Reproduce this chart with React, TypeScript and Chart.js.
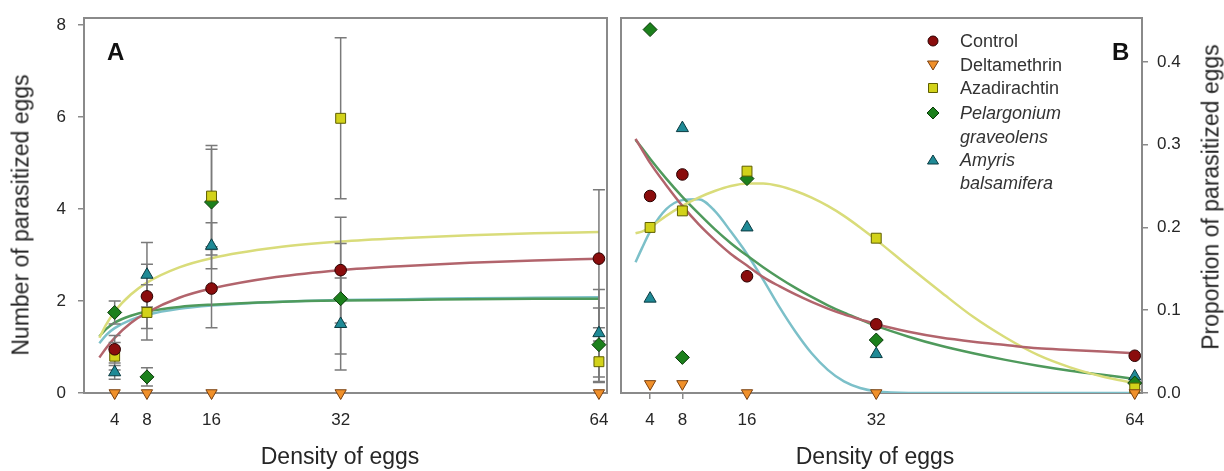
import React, { useEffect, useRef } from "react";
import { Chart, registerables } from "chart.js";
Chart.register(...registerables);

const FONT = "'Liberation Sans', Arial, sans-serif";

const densities = [4, 8, 16, 32, 64];
const xTickValues = [4, 8, 16, 32, 64];
const yTickValuesA = [0, 2, 4, 6, 8];
const yTickValuesB = [0, 0.1, 0.2, 0.3, 0.4];

const seriesNames = ["Control", "Deltamethrin", "Azadirachtin", "Pelargonium graveolens", "Amyris balsamifera"];

// Panel A: number of parasitized eggs (mean) and error
const controlMeanA = [0.95, 2.1, 2.27, 2.67, 2.92];
const deltamethrinMeanA = [0, 0, 0, 0, 0];
const azadirachtinMeanA = [0.8, 1.75, 4.28, 5.97, 0.68];
const pelargoniumMeanA = [1.75, 0.35, 4.15, 2.05, 1.05];
const amyrisMeanA = [0.45, 2.57, 3.2, 1.5, 1.3];

const controlErrA = [0.3, 0.7, 0.85, 1.15, 1.5];
const deltamethrinErrA = [0, 0, 0, 0, 0];
const azadirachtinErrA = [0.3, 0.6, 1.1, 1.75, 0.45];
const pelargoniumErrA = [0.25, 0.2, 1.15, 1.2, 0.8];
const amyrisErrA = [0.15, 0.7, 0.5, 1.0, 0.95];

// Panel B: proportion of parasitized eggs
const controlPropB = [0.238, 0.264, 0.141, 0.083, 0.045];
const deltamethrinPropB = [0.011, 0.011, 0, 0, 0];
const azadirachtinPropB = [0.2, 0.22, 0.268, 0.187, 0.006];
const pelargoniumPropB = [0.439, 0.043, 0.259, 0.064, 0.012];
const amyrisPropB = [0.114, 0.32, 0.2, 0.047, 0.02];

// Fitted curves
const fitXA = [2.1, 3, 4, 6, 8, 12, 16, 24, 32, 40, 48, 56, 64];
const controlFitA = [0.77, 0.99, 1.2, 1.52, 1.75, 2.07, 2.27, 2.52, 2.67, 2.76, 2.83, 2.88, 2.92];
const azadirachtinFitA = [1.2, 1.5, 1.77, 2.14, 2.4, 2.73, 2.93, 3.16, 3.29, 3.37, 3.43, 3.47, 3.5];
const pelargoniumFitA = [1.23, 1.4, 1.53, 1.68, 1.77, 1.87, 1.92, 1.98, 2.01, 2.02, 2.04, 2.05, 2.05];
const amyrisFitA = [1.08, 1.27, 1.41, 1.59, 1.7, 1.83, 1.9, 1.98, 2.02, 2.04, 2.06, 2.07, 2.08];

const fitXB = [2.2, 3, 4, 6, 8, 10, 12, 14, 16, 18, 20, 22, 24, 26, 28, 30, 32, 36, 40, 44, 48, 52, 56, 60, 64];
const controlFitB = [0.307, 0.294, 0.278, 0.251, 0.226, 0.204, 0.185, 0.168, 0.154, 0.14, 0.129, 0.119, 0.11, 0.102, 0.095, 0.089, 0.083, 0.074, 0.067, 0.062, 0.058, 0.054, 0.052, 0.05, 0.048];
const azadirachtinFitB = [0.193, 0.195, 0.2, 0.214, 0.226, 0.236, 0.244, 0.25, 0.253, 0.253, 0.25, 0.244, 0.236, 0.226, 0.214, 0.2, 0.185, 0.153, 0.122, 0.092, 0.067, 0.046, 0.031, 0.02, 0.012];
const pelargoniumFitB = [0.306, 0.296, 0.283, 0.259, 0.237, 0.217, 0.198, 0.181, 0.166, 0.152, 0.139, 0.127, 0.116, 0.106, 0.097, 0.089, 0.081, 0.068, 0.057, 0.048, 0.04, 0.033, 0.027, 0.022, 0.017];
const amyrisFitB = [0.158, 0.175, 0.195, 0.222, 0.233, 0.234, 0.22, 0.195, 0.168, 0.137, 0.104, 0.074, 0.048, 0.028, 0.014, 0.006, 0.002, 0, 0, 0, 0, 0, 0, 0, 0];

const markerStyles = [
  { pointStyle: "circle", bg: "#8a0c0c", border: "#2a0000", radius: 5.8, rotation: 0 },
  { pointStyle: "triangle", bg: "#f0902a", border: "#7a4010", radius: 6.5, rotation: 180 },
  { pointStyle: "rect", bg: "#d2d21a", border: "#5e5e00", radius: 7, rotation: 0 },
  { pointStyle: "rectRot", bg: "#1c801c", border: "#0a3a0a", radius: 7, rotation: 0 },
  { pointStyle: "triangle", bg: "#1f8a96", border: "#0a3a40", radius: 7, rotation: 0 },
];
const fitColors = ["#b2646c", "#d9dc7a", "#4f9a5c", "#7cc0c9"];

const FRAME = "#8a8a8a";
const TEXT = "#262626";

function scatterSet(label: string, ys: number[], i: number) {
  const st = markerStyles[i];
  return {
    label,
    data: densities.map((x, k) => ({ x, y: ys[k] })),
    pointStyle: st.pointStyle,
    pointRadius: st.radius,
    pointRotation: st.rotation,
    backgroundColor: st.bg,
    borderColor: st.border,
    pointBorderWidth: 1,
    borderWidth: 1,
    showLine: false,
    clip: false,
    order: 0,
  };
}

function curveSet(label: string, xs: number[], ys: number[], color: string) {
  return {
    label,
    data: xs.map((x, k) => ({ x, y: ys[k] })),
    borderColor: color,
    backgroundColor: color,
    borderWidth: 2.5,
    pointRadius: 0,
    showLine: true,
    fill: false,
    cubicInterpolationMode: "monotone",
    order: 1,
  };
}

const framePlugin = {
  id: "frame",
  beforeDatasetsDraw(chart: any) {
    const { ctx, chartArea } = chart;
    ctx.save();
    ctx.strokeStyle = FRAME;
    ctx.lineWidth = 2;
    ctx.strokeRect(chartArea.left, chartArea.top, chartArea.right - chartArea.left, chartArea.bottom - chartArea.top);
    ctx.restore();
  },
};

function makeErrorPlugin(means: number[][], errs: number[][]) {
  return {
    id: "errbars",
    beforeDatasetDraw(chart: any, args: any) {
      if (args.index !== means.length - 1) return;
      const { ctx } = chart;
      const xs = chart.scales.x;
      const ys = chart.scales.y;
      ctx.save();
      ctx.strokeStyle = "#7a7a7a";
      ctx.lineWidth = 1.5;
      means.forEach((m, s) => {
        m.forEach((v, k) => {
          const e = errs[s][k];
          if (!e) return;
          const px = xs.getPixelForValue(densities[k]);
          const top = ys.getPixelForValue(v + e);
          const bot = ys.getPixelForValue(v - e);
          ctx.beginPath();
          ctx.moveTo(px, top);
          ctx.lineTo(px, bot);
          ctx.moveTo(px - 6, top);
          ctx.lineTo(px + 6, top);
          ctx.moveTo(px - 6, bot);
          ctx.lineTo(px + 6, bot);
          ctx.stroke();
        });
      });
      ctx.restore();
    },
  };
}

function drawMarker(ctx: CanvasRenderingContext2D, i: number, x: number, y: number) {
  const st = markerStyles[i];
  ctx.fillStyle = st.bg;
  ctx.strokeStyle = st.border;
  ctx.lineWidth = 1;
  ctx.beginPath();
  if (i === 0) {
    ctx.arc(x, y, 5, 0, Math.PI * 2);
  } else if (i === 1) {
    ctx.moveTo(x - 5.5, y - 4);
    ctx.lineTo(x + 5.5, y - 4);
    ctx.lineTo(x, y + 5);
    ctx.closePath();
  } else if (i === 2) {
    ctx.rect(x - 4.5, y - 4.5, 9, 9);
  } else if (i === 3) {
    ctx.moveTo(x, y - 6);
    ctx.lineTo(x + 6, y);
    ctx.lineTo(x, y + 6);
    ctx.lineTo(x - 6, y);
    ctx.closePath();
  } else {
    ctx.moveTo(x - 5.5, y + 4);
    ctx.lineTo(x + 5.5, y + 4);
    ctx.lineTo(x, y - 5);
    ctx.closePath();
  }
  ctx.fill();
  ctx.stroke();
}

const legendPlugin = {
  id: "innerLegend",
  afterDatasetsDraw(chart: any) {
    const { ctx } = chart;
    const mx = 321;
    const tx = 348;
    const rows: { text: string; italic: boolean; y: number; marker: number }[] = [
      { text: "Control", italic: false, y: 41, marker: 0 },
      { text: "Deltamethrin", italic: false, y: 65, marker: 1 },
      { text: "Azadirachtin", italic: false, y: 88, marker: 2 },
      { text: "Pelargonium", italic: true, y: 113, marker: 3 },
      { text: "graveolens", italic: true, y: 137, marker: -1 },
      { text: "Amyris", italic: true, y: 160, marker: 4 },
      { text: "balsamifera", italic: true, y: 183, marker: -1 },
    ];
    ctx.save();
    ctx.textBaseline = "middle";
    ctx.textAlign = "left";
    rows.forEach((r) => {
      if (r.marker >= 0) drawMarker(ctx, r.marker, mx, r.y);
      ctx.fillStyle = "#333";
      ctx.font = `${r.italic ? "italic " : ""}18px ${FONT}`;
      ctx.fillText(r.text, tx, r.y + 1);
    });
    ctx.restore();
  },
};

function clearPadding(scale: any) {
  scale.paddingLeft = 0;
  scale.paddingRight = 0;
  scale.paddingTop = 0;
  scale.paddingBottom = 0;
}

function xScale(min: number, max: number) {
  return {
    type: "linear",
    min,
    max,
    afterBuildTicks: (scale: any) => {
      scale.ticks = xTickValues.map((v) => ({ value: v }));
    },
    afterFit: (scale: any) => {
      scale.height = 78;
      clearPadding(scale);
    },
    grid: { display: true, drawOnChartArea: false, drawTicks: true, tickLength: 6, color: FRAME, lineWidth: 1.5 },
    border: { display: false },
    ticks: { color: TEXT, font: { family: FONT, size: 17 }, padding: 11, maxRotation: 0, autoSkip: false },
  };
}

function ChartA() {
  const ref = useRef<HTMLCanvasElement | null>(null);
  useEffect(() => {
    const means = [controlMeanA, deltamethrinMeanA, azadirachtinMeanA, pelargoniumMeanA, amyrisMeanA];
    const errs = [controlErrA, deltamethrinErrA, azadirachtinErrA, pelargoniumErrA, amyrisErrA];
    const chart = new Chart(ref.current as HTMLCanvasElement, {
      type: "scatter",
      data: {
        datasets: [
          ...means.map((m, i) => scatterSet(seriesNames[i], m, i)),
          curveSet("Control fit", fitXA, controlFitA, fitColors[0]),
          curveSet("Azadirachtin fit", fitXA, azadirachtinFitA, fitColors[1]),
          curveSet("Pelargonium fit", fitXA, pelargoniumFitA, fitColors[2]),
          curveSet("Amyris fit", fitXA, amyrisFitA, fitColors[3]),
        ] as any,
      },
      options: {
        animation: false,
        responsive: false,
        events: [],
        layout: { autoPadding: false, padding: { left: 0, right: 5, top: 18, bottom: 0 } },
        plugins: { legend: { display: false }, tooltip: { enabled: false }, title: { display: false } },
        scales: {
          x: xScale(0.2, 65) as any,
          y: {
            type: "linear",
            min: 0,
            max: 8.15,
            afterBuildTicks: (scale: any) => {
              scale.ticks = yTickValuesA.map((v) => ({ value: v }));
            },
            afterFit: (scale: any) => {
              scale.width = 84;
              clearPadding(scale);
            },
            grid: { display: true, drawOnChartArea: false, drawTicks: true, tickLength: 6, color: FRAME, lineWidth: 1.5 },
            border: { display: false },
            ticks: { color: TEXT, font: { family: FONT, size: 17 }, padding: 12 },
          } as any,
        },
      },
      plugins: [framePlugin, makeErrorPlugin(means, errs)],
    });
    return () => chart.destroy();
  }, []);
  return <canvas ref={ref} width={612} height={471} style={{ position: "absolute", left: 0, top: 0, width: 612, height: 471 }} />;
}

function ChartB() {
  const ref = useRef<HTMLCanvasElement | null>(null);
  useEffect(() => {
    const props = [controlPropB, deltamethrinPropB, azadirachtinPropB, pelargoniumPropB, amyrisPropB];
    const chart = new Chart(ref.current as HTMLCanvasElement, {
      type: "scatter",
      data: {
        datasets: [
          ...props.map((m, i) => scatterSet(seriesNames[i], m, i)),
          curveSet("Control fit", fitXB, controlFitB, fitColors[0]),
          curveSet("Azadirachtin fit", fitXB, azadirachtinFitB, fitColors[1]),
          curveSet("Pelargonium fit", fitXB, pelargoniumFitB, fitColors[2]),
          curveSet("Amyris fit", fitXB, amyrisFitB, fitColors[3]),
        ] as any,
      },
      options: {
        animation: false,
        responsive: false,
        events: [],
        layout: { autoPadding: false, padding: { left: 9, right: 0, top: 18, bottom: 0 } },
        plugins: { legend: { display: false }, tooltip: { enabled: false }, title: { display: false } },
        scales: {
          x: xScale(0.4, 64.9) as any,
          y: {
            type: "linear",
            position: "right",
            min: 0,
            max: 0.453,
            afterBuildTicks: (scale: any) => {
              scale.ticks = yTickValuesB.map((v) => ({ value: v }));
            },
            afterFit: (scale: any) => {
              scale.width = 82;
              clearPadding(scale);
            },
            grid: { display: true, drawOnChartArea: false, drawTicks: true, tickLength: 6, color: FRAME, lineWidth: 1.5 },
            border: { display: false },
            ticks: { color: TEXT, font: { family: FONT, size: 17 }, padding: 9, callback: (v: any) => Number(v).toFixed(1) },
          } as any,
        },
      },
      plugins: [framePlugin, legendPlugin],
    });
    return () => chart.destroy();
  }, []);
  return <canvas ref={ref} width={612} height={471} style={{ position: "absolute", left: 612, top: 0, width: 612, height: 471 }} />;
}

const textBase: React.CSSProperties = {
  position: "absolute",
  fontFamily: FONT,
  color: TEXT,
  whiteSpace: "nowrap",
  lineHeight: 1,
};

export default function App() {
  return (
    <div style={{ position: "absolute", left: 0, top: 0, width: 1224, height: 471, background: "#fff", overflow: "hidden" }}>
      <ChartA />
      <ChartB />
      <div style={{ ...textBase, fontSize: 24, fontWeight: "bold", left: 107, top: 40, color: "#111" }}>A</div>
      <div style={{ ...textBase, fontSize: 24, fontWeight: "bold", left: 1112, top: 40, color: "#111" }}>B</div>
      <div style={{ ...textBase, fontSize: 23, left: 340, top: 445, transform: "translateX(-50%)" }}>Density of eggs</div>
      <div style={{ ...textBase, fontSize: 23, left: 875, top: 445, transform: "translateX(-50%)" }}>Density of eggs</div>
      <div style={{ ...textBase, fontSize: 23, left: 21, top: 215, transform: "translate(-50%, -50%) rotate(-90deg)" }}>Number of parasitized eggs</div>
      <div style={{ ...textBase, fontSize: 23, left: 1211, top: 197, transform: "translate(-50%, -50%) rotate(-90deg)" }}>Proportion of parasitized eggs</div>
    </div>
  );
}
